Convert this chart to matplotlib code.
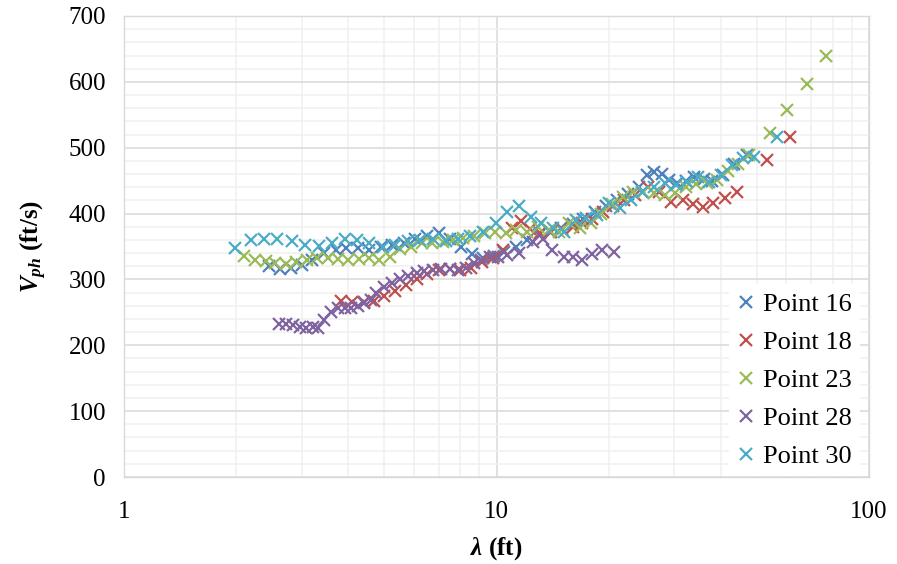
import matplotlib
matplotlib.use('Agg')
import matplotlib.pyplot as plt
from matplotlib.ticker import MultipleLocator, FixedLocator, FuncFormatter, NullFormatter

plt.rcParams['font.family'] = 'Liberation Serif'
plt.rcParams['mathtext.fontset'] = 'custom'
plt.rcParams['mathtext.rm'] = 'Liberation Serif'
plt.rcParams['mathtext.it'] = 'Liberation Serif:italic'
plt.rcParams['mathtext.bf'] = 'Liberation Serif:bold'
plt.rcParams['mathtext.bfit'] = 'Liberation Serif:bold:italic'

# wavelength (ft) and phase velocity (ft/s) for each test point
p16_x = [2.45, 2.62, 2.80, 3.00, 3.20, 3.45, 3.70, 3.95, 4.25, 4.55, 4.90, 5.25, 5.65,
         6.05, 6.50, 7.00, 7.50, 8.05, 8.60, 9.20, 9.85, 10.5, 11.3, 12.1, 13.0, 13.9,
         14.9, 16.0, 17.1, 18.4, 19.7, 21.1, 22.6, 24.2, 25.3, 26.5, 27.8, 29.0, 30.5,
         32.2, 34.0, 36.0, 38.0, 40.5, 43.5, 47.0]
p16_v = [320, 316, 318, 322, 330, 340, 345, 348, 347, 345, 350, 352, 355,
         362, 366, 370, 362, 350, 338, 332, 336, 342, 350, 360, 368, 372,
         378, 384, 392, 402, 412, 420, 430, 440, 458, 463, 460, 451, 446,
         450, 456, 452, 450, 458, 476, 489]

p18_x = [3.83, 4.10, 4.40, 4.70, 5.00, 5.35, 5.70, 6.10, 6.50, 7.00, 7.50, 8.00, 8.55,
         9.15, 9.80, 10.4, 11.0, 11.6, 12.3, 13.1, 14.0, 15.0, 16.0, 17.0, 18.1, 19.3,
         20.6, 22.0, 23.5, 25.5, 27.3, 29.4, 31.6, 33.7, 35.9, 38.1, 41.0, 44.1, 53.1, 61.2]
p18_v = [267, 266, 265, 268, 275, 283, 292, 300, 308, 315, 316, 315, 318,
         326, 332, 345, 378, 388, 376, 370, 372, 376, 380, 385, 392, 402,
         412, 420, 428, 440, 432, 418, 421, 415, 410, 416, 423, 433, 482, 517]

p23_x = [2.10, 2.25, 2.40, 2.55, 2.72, 2.90, 3.10, 3.30, 3.52, 3.75, 4.00, 4.27, 4.55,
         4.85, 5.17, 5.52, 5.90, 6.30, 6.72, 7.17, 7.65, 8.15, 8.70, 9.30, 9.90, 10.6,
         11.3, 12.1, 12.9, 13.8, 14.7, 15.7, 16.8, 17.9, 19.1, 20.4, 21.8, 23.3, 24.8,
         26.5, 28.3, 30.2, 32.2, 34.4, 36.7, 39.2, 41.8, 44.6, 47.6, 54.1, 60.4, 68.2, 76.7]
p23_v = [335, 330, 328, 325, 323, 326, 330, 332, 333, 331, 329, 331, 333,
         330, 334, 346, 350, 355, 356, 357, 360, 363, 366, 370, 372, 370,
         375, 372, 380, 375, 372, 385, 378, 385, 400, 415, 425, 432, 433,
         431, 428, 431, 441, 445, 446, 451, 464, 475, 489, 522, 557, 596, 640]

p28_x = [2.61, 2.72, 2.84, 2.96, 3.08, 3.21, 3.31, 3.44, 3.60, 3.75, 3.91, 4.07, 4.24,
         4.42, 4.61, 4.76, 5.00, 5.25, 5.50, 5.80, 6.10, 6.40, 6.75, 7.10, 7.50, 7.90,
         8.30, 8.70, 9.10, 9.60, 10.1, 10.7, 11.5, 12.5, 13.3, 14.1, 15.2, 16.0, 17.0,
         18.0, 19.2, 20.7]
p28_v = [233, 233, 231, 228, 226, 228, 226, 238, 251, 256, 256, 256, 259,
         264, 269, 279, 288, 295, 300, 305, 310, 313, 315, 316, 316, 315,
         318, 325, 330, 334, 334, 337, 340, 357, 362, 345, 334, 334, 329,
         339, 345, 342]

p30_x = [1.99, 2.19, 2.38, 2.58, 2.82, 3.07, 3.33, 3.62, 3.91, 4.23, 4.56, 4.95, 5.35,
         5.80, 6.25, 6.75, 7.30, 7.90, 8.50, 9.20, 9.95, 10.7, 11.5, 12.4, 13.2, 14.2,
         15.2, 16.3, 17.4, 18.6, 20.0, 21.5, 23.0, 24.6, 26.4, 28.3, 30.3, 32.5, 34.8,
         37.3, 40.0, 42.8, 45.8, 49.0, 56.5]
p30_v = [347, 360, 362, 361, 358, 353, 351, 355, 361, 360, 355, 350, 352,
         358, 360, 362, 358, 362, 366, 372, 385, 402, 412, 395, 385, 378,
         372, 390, 393, 398, 416, 408, 420, 432, 440, 446, 443, 448, 456,
         448, 458, 474, 484, 486, 516]

labels = ['Point 16', 'Point 18', 'Point 23', 'Point 28', 'Point 30']
colors = ['#4F81BD', '#C0504D', '#9BBB59', '#8064A2', '#4BACC6']
xs = [p16_x, p18_x, p23_x, p28_x, p30_x]
vs = [p16_v, p18_v, p23_v, p28_v, p30_v]

fig = plt.figure(figsize=(8.97, 5.64), dpi=100)
ax = fig.add_axes([124 / 897, 1 - 477 / 564, (869 - 124) / 897, (477 - 16) / 564])

for x, v, c, lab in zip(xs, vs, colors, labels):
    ax.plot(x, v, linestyle='none', marker='x', markersize=8.5,
            markeredgewidth=1.6, color=c, label=lab, zorder=3)

ax.set_xscale('log')
ax.set_xlim(1, 100)
ax.set_ylim(0, 700)

ax.xaxis.set_major_locator(FixedLocator([1, 10, 100]))
ax.xaxis.set_minor_locator(FixedLocator([m * d for d in (1, 10) for m in range(2, 10)]))
ax.xaxis.set_major_formatter(FuncFormatter(lambda v, p: f'{v:g}'))
ax.xaxis.set_minor_formatter(NullFormatter())
ax.yaxis.set_major_locator(MultipleLocator(100))
ax.yaxis.set_minor_locator(MultipleLocator(20))

ax.set_axisbelow(True)
ax.grid(which='major', color='#d9d9d9', linewidth=1.1)
ax.grid(which='minor', color='#f0f0f0', linewidth=1.1)
for s in ax.spines.values():
    s.set_color('#d9d9d9')
    s.set_linewidth(1.0)

ax.tick_params(axis='both', which='both', length=0, labelsize=18)
ax.tick_params(axis='x', pad=17)
ax.tick_params(axis='y', pad=13)

ax.set_xlabel(r'$\mathbfit{\lambda}$ (ft)', fontsize=18, fontweight='bold', labelpad=9)
ax.set_ylabel(r'$\mathbfit{V}_{\mathbfit{ph}}$ (ft/s)', fontsize=18, fontweight='bold', labelpad=14)

leg = ax.legend(loc='lower right', bbox_to_anchor=(0.99, 0.0), fontsize=19,
                frameon=True, fancybox=False, framealpha=1, facecolor='white',
                edgecolor='none', handlelength=0.7, handletextpad=0.3,
                labelspacing=0.55, borderpad=0.3, borderaxespad=0.05)

fig.savefig('out.png', dpi=100)
